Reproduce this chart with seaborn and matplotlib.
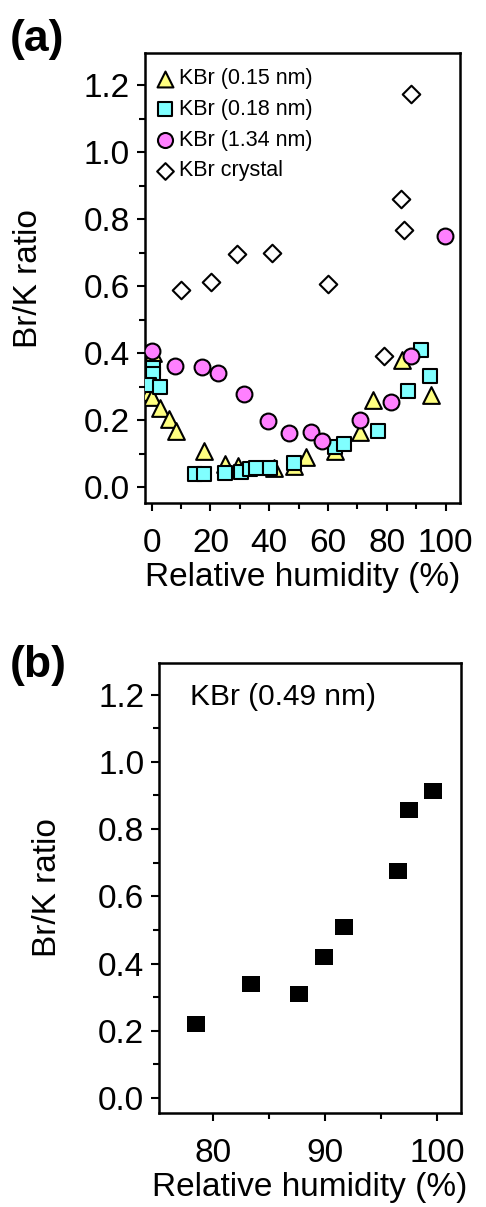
import numpy as np
import pandas as pd
import matplotlib
matplotlib.use("Agg")
import matplotlib.pyplot as plt
from matplotlib.ticker import MultipleLocator, FormatStrFormatter
import seaborn as sns

# -------------------------------------------------------------------------
# Data
# -------------------------------------------------------------------------

# (a) KBr (0.15 nm)
rh_015 = [0.6, -1.0, 0.3, 2.8, 6.0, 8.3, 17.8, 25.0, 29.5, 41.5, 48.5, 52.6,
          62.3, 71.0, 75.3, 85.2, 94.9]
br_015 = [0.40, 0.285, 0.27, 0.238, 0.205, 0.168, 0.108, 0.070, 0.063, 0.058,
          0.062, 0.089, 0.108, 0.165, 0.260, 0.380, 0.275]

# (a) KBr (0.18 nm)
rh_018 = [0.5, 0.6, -0.8, 2.8, 14.8, 17.8, 25.0, 30.5, 33.5, 35.6, 40.3, 48.3,
          62.5, 65.6, 77.0, 87.2, 91.7, 94.7]
br_018 = [0.357, 0.338, 0.304, 0.300, 0.039, 0.039, 0.043, 0.046, 0.053, 0.056,
          0.058, 0.073, 0.120, 0.128, 0.167, 0.288, 0.410, 0.332]

# (a) KBr (1.34 nm)
rh_134 = [0.0, 8.1, 17.2, 22.6, 31.3, 39.6, 46.8, 54.3, 58.0, 71.0, 81.3, 88.3, 99.8]
br_134 = [0.407, 0.362, 0.360, 0.342, 0.277, 0.197, 0.163, 0.166, 0.138, 0.200,
          0.254, 0.392, 0.751]

# (a) KBr crystal
rh_cry = [10.0, 20.2, 29.0, 41.0, 60.1, 79.0, 85.0, 86.0, 88.1]
br_cry = [0.590, 0.613, 0.696, 0.698, 0.608, 0.392, 0.860, 0.768, 1.173]

# (b) KBr (0.49 nm)
rh_049 = [78.5, 83.4, 87.7, 89.9, 91.7, 96.5, 97.5, 99.6]
br_049 = [0.221, 0.340, 0.309, 0.421, 0.509, 0.676, 0.856, 0.912]

SERIES = [
    ("KBr (0.15 nm)", rh_015, br_015, "^", "#ffff80", 145),
    ("KBr (0.18 nm)", rh_018, br_018, "s", "#80ffff", 100),
    ("KBr (1.34 nm)", rh_134, br_134, "o", "#ff80ff", 130),
    ("KBr crystal", rh_cry, br_cry, "D", "white", 80),
]

# -------------------------------------------------------------------------
# Style
# -------------------------------------------------------------------------

sns.set_style("ticks")
plt.rcParams["font.family"] = ["Liberation Sans", "DejaVu Sans"]
plt.rcParams.update({
    "text.color": "black",
    "axes.labelcolor": "black",
    "axes.edgecolor": "black",
    "xtick.color": "black",
    "ytick.color": "black",
    "axes.linewidth": 1.8,
    "xtick.major.width": 1.5,
    "ytick.major.width": 1.5,
    "xtick.minor.width": 1.5,
    "ytick.minor.width": 1.5,
})

TICK_FS = 24
LABEL_FS = 24

fig = plt.figure(figsize=(4.86, 12.07), dpi=100)
ax_a = fig.add_axes([0.298, 0.583, 0.649, 0.373])
ax_b = fig.add_axes([0.328, 0.078, 0.620, 0.373])


def _style_axes(ax):
    for side in ["top", "right", "left", "bottom"]:
        ax.spines[side].set_visible(True)
        ax.spines[side].set_color("black")
        ax.spines[side].set_linewidth(1.8)
    ax.tick_params(axis="both", which="major", direction="out", length=6,
                   labelsize=TICK_FS, top=False, right=False)
    ax.tick_params(axis="both", which="minor", direction="out", length=4,
                   top=False, right=False)
    ax.tick_params(axis="x", which="major", pad=12)
    ax.tick_params(axis="y", which="major", pad=5)
    ax.yaxis.set_major_locator(MultipleLocator(0.2))
    ax.yaxis.set_minor_locator(MultipleLocator(0.1))
    ax.yaxis.set_major_formatter(FormatStrFormatter("%.1f"))
    ax.set_ylabel("Br/K ratio", fontsize=LABEL_FS)
    ax.set_xlabel("Relative humidity (%)", fontsize=LABEL_FS, labelpad=2)


# -------------------------------------------------------------------------
# Panel (a)
# -------------------------------------------------------------------------
for label, xs, ys, marker, color, size in SERIES:
    df = pd.DataFrame({"rh": xs, "ratio": ys})
    sns.scatterplot(data=df, x="rh", y="ratio", ax=ax_a, marker=marker,
                    color=color, edgecolor="black", linewidth=1.5, s=size,
                    label=label, zorder=3)

ax_a.set_xlim(-2.3, 105)
ax_a.set_ylim(-0.048, 1.296)
ax_a.xaxis.set_major_locator(MultipleLocator(20))
ax_a.xaxis.set_minor_locator(MultipleLocator(10))
_style_axes(ax_a)
ax_a.yaxis.set_label_coords(-0.32, 0.5)

leg = ax_a.legend(loc="upper left", bbox_to_anchor=(-0.025, 1.0), frameon=False,
                  fontsize=15.5, handletextpad=0.05, borderaxespad=0.3,
                  labelspacing=0.45, handlelength=1.2, markerscale=0.95)

fig.text(0.02, 0.967, "(a)", fontsize=32, fontweight="bold", ha="left",
         va="center")

# -------------------------------------------------------------------------
# Panel (b)
# -------------------------------------------------------------------------
rect = [(-1.2, -1.0), (1.2, -1.0), (1.2, 1.0), (-1.2, 1.0), (-1.2, -1.0)]
df_b = pd.DataFrame({"rh": rh_049, "ratio": br_049})
sns.scatterplot(data=df_b, x="rh", y="ratio", ax=ax_b, marker=rect,
                color="black", edgecolor="black", linewidth=0, s=180,
                zorder=3, legend=False)

ax_b.set_xlim(75.2, 102.1)
ax_b.set_ylim(-0.044, 1.295)
ax_b.xaxis.set_major_locator(MultipleLocator(10))
ax_b.xaxis.set_minor_locator(MultipleLocator(5))
_style_axes(ax_b)
ax_b.yaxis.set_label_coords(-0.32, 0.5)
ax_b.text(0.1, 0.955, "KBr (0.49 nm)", transform=ax_b.transAxes, fontsize=21.5,
          ha="left", va="top")

fig.text(0.02, 0.449, "(b)", fontsize=32, fontweight="bold", ha="left",
         va="center")

fig.savefig("out.png", dpi=100)
